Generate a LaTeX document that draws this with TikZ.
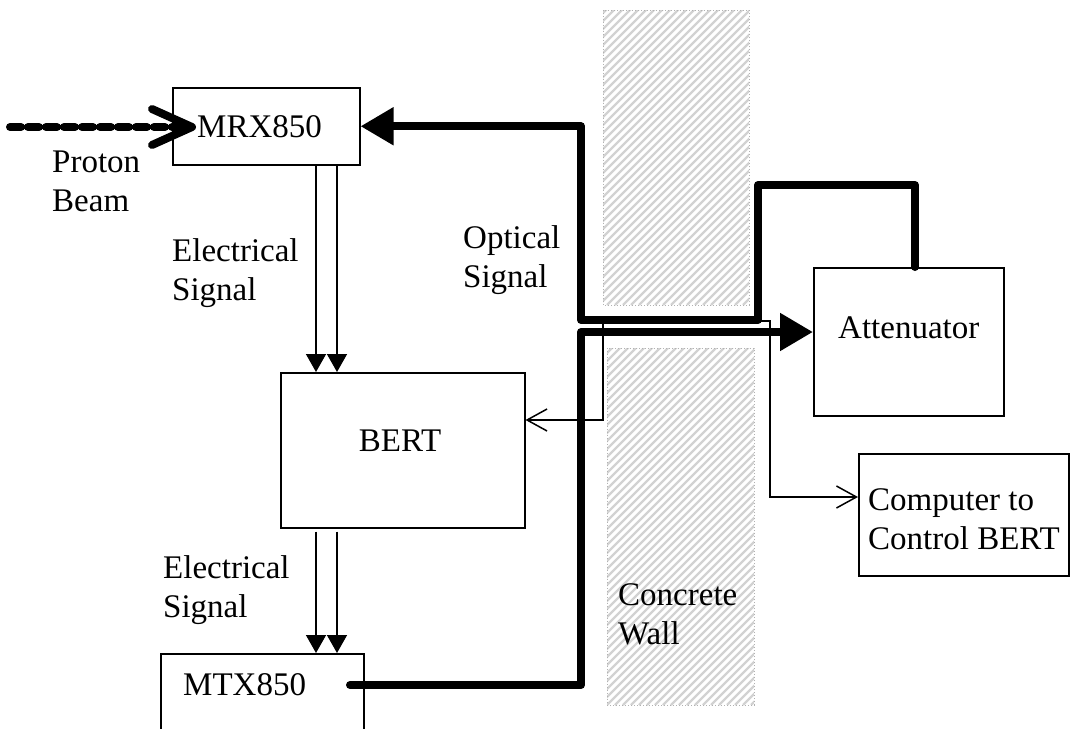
\documentclass[tikz,border=0pt]{standalone}
\usepackage{fontspec}
\setmainfont{Liberation Serif}
\usetikzlibrary{arrows.meta,calc}
\begin{document}
\begin{tikzpicture}[x=1pt,y=-1pt,
  box/.style={draw,line width=1.5pt,inner sep=0pt,anchor=north west},
  lbl/.style={font=\fontsize{33}{39}\selectfont,inner sep=0pt,align=left},
  optic/.style={line width=8pt,line cap=round,line join=round},
  optarrow/.style={-{Triangle[length=33pt,width=36pt]}},
  thinsig/.style={line width=1.5pt,-{Straight Barb[length=20pt,width=22pt,line width=1.5pt]}},
  elec/.style={line width=1.5pt,-{Triangle[length=18pt,width=20pt]}},
  walledge/.style={draw=gray!60,dotted,line width=1pt},
  hatch/.style={draw=gray!35,line width=2.2pt},
  beam/.style={line width=8pt,line cap=round,dash pattern=on 11pt off 7pt},
  chev/.style={line width=8pt,line cap=round,line join=round}
]
\useasboundingbox (0,0) rectangle (1070,728);
% concrete wall
\begin{scope}
  \clip (603,10) rectangle (749,305);
  \foreach \i in {0,...,60} \draw[hatch] (603+\i*8-300,305) -- ++(300,-300);
\end{scope}
\begin{scope}
  \clip (607,348) rectangle (754,705);
  \foreach \i in {0,...,80} \draw[hatch] (607+\i*8-360,705) -- ++(360,-360);
\end{scope}
\path[walledge] (603,10) rectangle (749,305);
\path[walledge] (607,348) rectangle (754,705);
% boxes
\node[box,minimum width=187pt,minimum height=77pt] (mrx) at (172,87) {};
\node[box,minimum width=244pt,minimum height=155pt] (bert) at (280,372) {};
\node[box,minimum width=203pt,minimum height=100pt] (mtx) at (160,653) {};
\node[box,minimum width=190pt,minimum height=148pt] (att) at (813,267) {};
\node[box,minimum width=210pt,minimum height=122pt] (comp) at (858,453) {};
% texts
\node[lbl,anchor=base west] (tmrx) at (197,137) {MRX850};
\node[lbl,anchor=base] (tbert) at (400,451) {BERT};
\node[lbl,anchor=base west] (tmtx) at (183,695) {MTX850};
\node[lbl,anchor=base west] (tatt) at (838,338) {Attenuator};
\node[lbl,anchor=west] (tcomp) at (868,519) {Computer to\\Control BERT};
\node[lbl,anchor=west] (tpb) at (52,181) {Proton\\Beam};
\node[lbl,anchor=west] (tel1) at (172,273) {Electrical\\Signal};
\node[lbl,anchor=west] (tel2) at (163,590) {Electrical\\Signal};
\node[lbl,anchor=west] (topt) at (463,260) {Optical\\Signal};
\node[lbl,anchor=west] (twall) at (618,614) {Concrete\\Wall};
% proton beam
\coordinate (pbs) at (10,127);
\coordinate (pbt) at (192,127);
\draw[beam] (pbs) -- ($(pbt)+(-8,0)$);
\draw[chev] ($(pbt)+(-40,-18)$) -- (pbt) -- ($(pbt)+(-40,18)$);
% electrical signals
\coordinate (ea) at ($(mrx.south west)+(144,0)$);
\coordinate (eb) at ($(mrx.south west)+(165,0)$);
\draw[elec] (ea) -- (ea |- bert.north);
\draw[elec] (eb) -- (eb |- bert.north);
\coordinate (ec) at ($(bert.south west)+(36,3)$);
\coordinate (ed) at ($(bert.south west)+(57,3)$);
\draw[elec] (ec) -- (ec |- mtx.north);
\draw[elec] (ed) -- (ed |- mtx.north);
% optical fibre from attenuator to MRX850
\coordinate (c1) at (915,185);
\coordinate (c2) at (758,185);
\coordinate (c3) at (758,320);
\coordinate (c4) at (581,320);
\draw[optic,optarrow] (att.north -| c1) -- (c1) -- (c2) -- (c3) -- (c4) -- (c4 |- mrx.east) -- (mrx.east);
% optical fibre from MTX850 to attenuator
\coordinate (m1) at (350,685);
\coordinate (d1) at (581,685);
\coordinate (d2) at (581,332);
\draw[optic,optarrow] (m1) -- (d1) -- (d2) -- (att.west |- d2);
% taps to BERT and computer
\coordinate (t1) at (603,320);
\coordinate (t2) at (603,420);
\draw[thinsig] (t1) -- (t2) -- (bert.east |- t2);
\coordinate (u1) at (770,321);
\coordinate (u2) at (770,497);
\draw[thinsig] (c3 |- u1) -- (u1) -- (u2) -- (comp.west |- u2);
\end{tikzpicture}
\end{document}
